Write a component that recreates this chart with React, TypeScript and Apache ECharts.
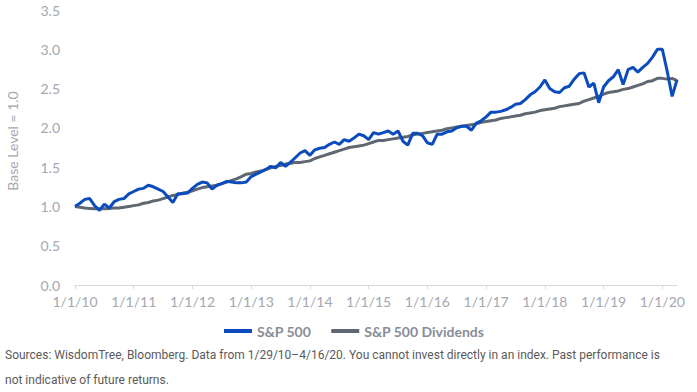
import React, { useEffect, useRef } from "react";
import * as echarts from "echarts";

const startYear = 2010;
const monthCount = 124; // Jan 2010 .. Apr 2020
const categories: string[] = [];
for (let i = 0; i < monthCount; i++) {
  const m = (i % 12) + 1;
  const y = (startYear + Math.floor(i / 12)) % 100;
  categories.push(`${m}/1/${y < 10 ? "0" + y : y}`);
}

const sp500 = [
  1.00, 1.04, 1.09, 1.10, 1.01, 0.95, 1.03, 0.98, 1.06, 1.09, 1.10, 1.16,
  1.19, 1.22, 1.23, 1.27, 1.25, 1.22, 1.19, 1.12, 1.05, 1.16, 1.16, 1.17,
  1.23, 1.28, 1.31, 1.30, 1.22, 1.27, 1.29, 1.32, 1.31, 1.30, 1.30, 1.31,
  1.38, 1.41, 1.44, 1.47, 1.51, 1.49, 1.56, 1.51, 1.56, 1.62, 1.68, 1.71,
  1.65, 1.72, 1.74, 1.75, 1.79, 1.82, 1.79, 1.85, 1.83, 1.87, 1.92, 1.90,
  1.85, 1.94, 1.92, 1.94, 1.96, 1.92, 1.96, 1.83, 1.78, 1.93, 1.93, 1.90,
  1.81, 1.79, 1.92, 1.92, 1.95, 1.96, 2.00, 2.02, 2.02, 1.97, 2.06, 2.09,
  2.14, 2.20, 2.20, 2.21, 2.23, 2.26, 2.30, 2.31, 2.36, 2.42, 2.46, 2.52,
  2.61, 2.50, 2.46, 2.45, 2.51, 2.53, 2.62, 2.69, 2.70, 2.52, 2.57, 2.32,
  2.52, 2.60, 2.65, 2.74, 2.55, 2.74, 2.77, 2.71, 2.77, 2.82, 2.90, 3.00,
  3.00, 2.72, 2.40, 2.61,
];

const sp500Dividends = [
  1.00, 0.99, 0.98, 0.975, 0.97, 0.97, 0.97, 0.975, 0.98, 0.98, 0.99, 1.00,
  1.01, 1.02, 1.04, 1.05, 1.07, 1.08, 1.10, 1.12, 1.14, 1.15, 1.17, 1.18,
  1.20, 1.22, 1.24, 1.25, 1.26, 1.27, 1.29, 1.31, 1.33, 1.35, 1.38, 1.41,
  1.42, 1.44, 1.45, 1.47, 1.49, 1.51, 1.52, 1.54, 1.55, 1.56, 1.56, 1.57,
  1.58, 1.61, 1.63, 1.65, 1.67, 1.69, 1.71, 1.73, 1.75, 1.76, 1.77, 1.78,
  1.80, 1.82, 1.84, 1.84, 1.85, 1.86, 1.87, 1.88, 1.89, 1.91, 1.92, 1.93,
  1.94, 1.95, 1.96, 1.97, 1.99, 2.00, 2.01, 2.02, 2.03, 2.04, 2.05, 2.07,
  2.08, 2.09, 2.10, 2.12, 2.13, 2.14, 2.15, 2.16, 2.18, 2.19, 2.20, 2.22,
  2.23, 2.24, 2.25, 2.27, 2.28, 2.29, 2.30, 2.31, 2.34, 2.36, 2.38, 2.40,
  2.43, 2.45, 2.46, 2.47, 2.49, 2.50, 2.52, 2.54, 2.56, 2.59, 2.60, 2.63,
  2.63, 2.62, 2.63, 2.60,
];

const seriesNames = ["S&P 500", "S&P 500 Dividends"];
const yAxisTitle = "Base Level = 1.0";
const sourceLine1 =
  "Sources: WisdomTree, Bloomberg. Data from 1/29/10\u20134/16/20. You cannot invest directly in an index. Past performance is";
const sourceLine2 = "not indicative of future returns.";

export default function App() {
  const ref = useRef<HTMLDivElement>(null);
  useEffect(() => {
    if (!ref.current) return;
    const chart = echarts.init(ref.current, null, { renderer: "svg" });
    const labelColor = "#a4a7b0";
    chart.setOption({
      animation: false,
      backgroundColor: "#ffffff",
      grid: { left: 75, right: 20, top: 10, bottom: 107 },
      xAxis: {
        type: "category",
        data: categories,
        boundaryGap: false,
        axisLine: { show: true, lineStyle: { color: "#d9d9d9", width: 1 } },
        axisTick: {
          show: true,
          interval: (i: number) => i % 12 === 0,
          length: 4,
          lineStyle: { color: "#d9d9d9" },
        },
        axisLabel: {
          interval: (i: number) => i % 12 === 0,
          color: labelColor,
          fontFamily: "Lato",
          fontSize: 14,
          margin: 9,
        },
        splitLine: { show: false },
      },
      yAxis: {
        type: "value",
        min: 0,
        max: 3.5,
        interval: 0.5,
        axisLine: { show: false },
        axisTick: { show: false },
        splitLine: { show: false },
        axisLabel: {
          color: labelColor,
          fontFamily: "Lato",
          fontSize: 14,
          margin: 15,
          formatter: (v: number) => v.toFixed(1),
        },
      },
      legend: {
        data: seriesNames,
        left: 219,
        top: 319,
        icon: "rect",
        itemWidth: 28,
        itemHeight: 4,
        itemGap: 20,
        textStyle: {
          color: "#878d97",
          fontFamily: "Lato",
          fontWeight: "bold",
          fontSize: 14,
        },
      },
      graphic: [
        {
          type: "text",
          x: 12,
          y: 141,
          rotation: Math.PI / 2,
          style: {
            text: yAxisTitle,
            fill: labelColor,
            font: "14px Lato",
            align: "center",
            verticalAlign: "middle",
          },
        },
        {
          type: "text",
          x: 5,
          y: 355,
          style: {
            text: sourceLine1,
            fill: "#5a5a5a",
            font: "12px Roboto",
            verticalAlign: "middle",
          },
        },
        {
          type: "text",
          x: 5,
          y: 380,
          style: {
            text: sourceLine2,
            fill: "#5a5a5a",
            font: "12px Roboto",
            verticalAlign: "middle",
          },
        },
      ],
      series: [
        {
          name: seriesNames[0],
          type: "line",
          data: sp500,
          symbol: "none",
          lineStyle: { color: "#0a4cbd", width: 3 },
          itemStyle: { color: "#0a4cbd" },
          z: 3,
        },
        {
          name: seriesNames[1],
          type: "line",
          data: sp500Dividends,
          symbol: "none",
          lineStyle: { color: "#5f6870", width: 3 },
          itemStyle: { color: "#5f6870" },
          z: 2,
        },
      ],
    });
    return () => chart.dispose();
  }, []);
  return (
    <div
      ref={ref}
      style={{ position: "fixed", left: 0, top: 0, width: 697, height: 392 }}
    />
  );
}
